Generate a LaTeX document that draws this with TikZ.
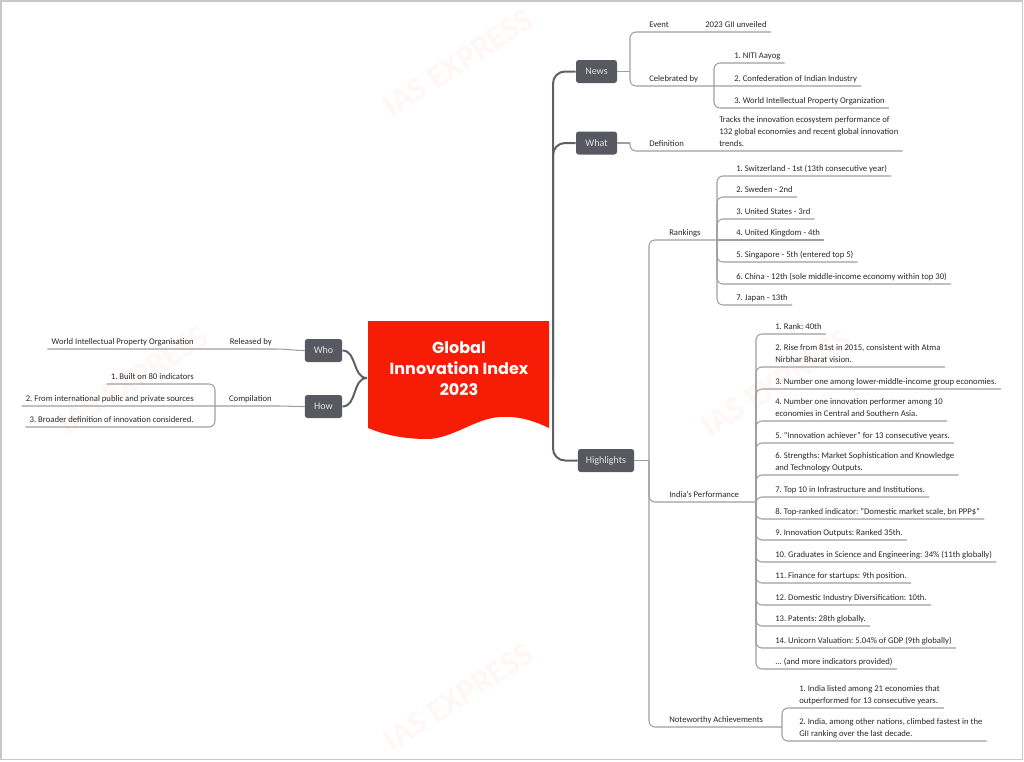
\documentclass[tikz,border=0pt]{standalone}
\usepackage{fontspec}
\setmainfont{Carlito}
\newfontfamily\titlefont{Poppins}
\frenchspacing

\definecolor{flagred}{RGB}{246,28,6}
\definecolor{boxgray}{RGB}{88,88,97}
\definecolor{linkgray}{RGB}{158,158,158}
\definecolor{trunkgray}{RGB}{95,95,105}
\definecolor{txtgray}{RGB}{40,40,40}
\definecolor{framegray}{RGB}{200,200,200}

\tikzset{
	leaf/.style={anchor=south west, inner xsep=3pt, inner ysep=1pt, text depth=2.2pt, font=\fontsize{6.5}{9}\selectfont, text=txtgray, align=left},
	leafL/.style={leaf, anchor=south east, align=right},
	topic/.style={fill=boxgray, rounded corners=2pt, text=white!90!black, font=\fontsize{7.5}{9}\selectfont, minimum height=17.25pt, minimum width=28pt, inner xsep=6pt},
	link/.style={draw=linkgray, line width=0.8pt},
	trunk/.style={draw=trunkgray, line width=1.5pt},
	wmark/.style={font=\fontsize{25}{25}\selectfont\bfseries, text=red, opacity=0.035, rotate=33}
}

\begin{document}
\begin{tikzpicture}[x=0.75pt,y=0.75pt,yscale=-1,xscale=1]
	\useasboundingbox (0,0) rectangle (1024,761);

	% Watermarks
	\begin{scope}
		\clip (1,1) rectangle (1022,759);
		\node (wm1) [wmark] at (458,63) {IAS EXPRESS};
		\node (wm2) [wmark] at (1101,63) {IAS EXPRESS};
		\node (wm3) [wmark] at (133,380) {IAS EXPRESS};
		\node (wm4) [wmark] at (776,383) {IAS EXPRESS};
		\node (wm5) [wmark] at (458,697) {IAS EXPRESS};
		\node (wm6) [wmark] at (1101,697) {IAS EXPRESS};
	\end{scope}

	% Frame
	\draw [framegray, line width=1.1pt] (1,1) rectangle (1022.5,759.5);

	% Shape: central flag
	\fill [flagred] (368,321) -- (549,321) -- (549,428) .. controls (530,419) and (516,416) .. (500,417) .. controls (476,418) and (452,439) .. (427,439) .. controls (402,439) and (382,434) .. (368,428) -- cycle;
	% Text Node
	\node (ctr) [font=\titlefont\bfseries\fontsize{12}{15.75}\selectfont, text=white, align=center] at (459,369) {Global\\Innovation Index\\2023};
	\coordinate (ctrR) at (553,378);
	\coordinate (ctrL) at (367,378);

	% Topics
	\node (news) [topic, minimum width=30.75pt] at (596.5,71.5) {News};
	\node (what) [topic, minimum width=30.75pt] at (596.5,143) {What};
	\node (hl) [topic] at (606,460.5) {Highlights};
	\node (who) [topic] at (323.5,350.5) {Who};
	\node (how) [topic] at (323.5,406.5) {How};

	% Main connectors
	\draw [trunk, rounded corners=9pt] (ctrR) |- (news.west);
	\draw [trunk, rounded corners=9pt] (ctrR) |- (what.west);
	\draw [trunk, rounded corners=9pt] (ctrR) |- (hl.west);
	\draw [trunk] (ctrL) to[out=180,in=0] (who.east);
	\draw [trunk] (ctrL) to[out=180,in=0] (how.east);

	% News
	\coordinate (nwT) at (630,71.5);
	\coordinate (cbJ) at (714,86);
	\node (ev) [leaf] at (645,32) {Event};
	\node (gii) [leaf] at (701,32) {2023 GII unveiled};
	\node (cb) [leaf] at (645,86) {Celebrated by};
	\node (cb1) [leaf] at (730,63) {1. NITI Aayog};
	\node (cb2) [leaf] at (730,86) {2. Confederation of Indian Industry};
	\node (cb3) [leaf] at (730,108) {3. World Intellectual Property Organization};
	\draw [link] (news.east) -- (nwT);
	\draw [link, rounded corners=4.5pt] (nwT) |- (gii.south east);
	\draw [link, rounded corners=4.5pt] (nwT) |- (cbJ) -- (cb2.south east);
	\draw [link, rounded corners=4.5pt] (cbJ) |- (cb1.south west) -- (cb1.south east);
	\draw [link, rounded corners=4.5pt] (cbJ) |- (cb3.south west) -- (cb3.south east);

	% What
	\coordinate (wtT) at (630,143);
	\node (df) [leaf] at (645,151) {Definition};
	\node (dfx) [leaf] at (715,151) {Tracks the innovation ecosystem performance of\\132 global economies and recent global innovation\\trends.};
	\draw [link] (what.east) -- (wtT);
	\draw [link, rounded corners=4.5pt] (wtT) |- (dfx.south east);

	% Highlights
	\coordinate (hlT) at (649,460.5);
	\coordinate (rkJ) at (717,240);
	\coordinate (ipJ) at (756,502);
	\coordinate (naJ) at (782,727);
	\draw [link] (hl.east) -- (hlT);
	\draw [link, rounded corners=4.5pt] (hlT) |- (rkJ);
	\draw [link, rounded corners=4.5pt] (hlT) |- (ipJ);
	\draw [link, rounded corners=4.5pt] (hlT) |- (naJ);

	% Rankings
	\node (rk) [leaf] at (665,240) {Rankings};
	\node (rk1) [leaf] at (732,176) {1. Switzerland - 1st (13th consecutive year)};
	\node (rk2) [leaf] at (732,197) {2. Sweden - 2nd};
	\node (rk3) [leaf] at (732,219) {3. United States - 3rd};
	\node (rk4) [leaf] at (732,240) {4. United Kingdom - 4th};
	\node (rk5) [leaf] at (732,262) {5. Singapore - 5th (entered top 5)};
	\node (rk6) [leaf] at (732,284) {6. China - 12th (sole middle-income economy within top 30)};
	\node (rk7) [leaf] at (732,305) {7. Japan - 13th};
	\draw [link] (rkJ) -- (rk4.south east);
	\foreach \i in {1,2,3,5,6,7}
		\draw [link, rounded corners=4.5pt] (rkJ) |- (rk\i.south west) -- (rk\i.south east);

	% India's Performance
	\node (ip) [leaf] at (665,502) {India's Performance};
	\node (ip1) [leaf] at (771,334) {1. Rank: 40th};
	\node (ip2) [leaf] at (771,367) {2. Rise from 81st in 2015, consistent with Atma\\Nirbhar Bharat vision.};
	\node (ip3) [leaf] at (771,389) {3. Number one among lower-middle-income group economies.};
	\node (ip4) [leaf] at (771,421) {4. Number one innovation performer among 10\\economies in Central and Southern Asia.};
	\node (ip5) [leaf] at (771,443) {5. "Innovation achiever" for 13 consecutive years.};
	\node (ip6) [leaf] at (771,475) {6. Strengths: Market Sophistication and Knowledge\\and Technology Outputs.};
	\node (ip7) [leaf] at (771,497) {7. Top 10 in Infrastructure and Institutions.};
	\node (ip8) [leaf] at (771,519) {8. Top-ranked indicator: "Domestic market scale, bn PPP\$"};
	\node (ip9) [leaf] at (771,540) {9. Innovation Outputs: Ranked 35th.};
	\node (ip10) [leaf] at (771,562) {10. Graduates in Science and Engineering: 34\% (11th globally)};
	\node (ip11) [leaf] at (771,583) {11. Finance for startups: 9th position.};
	\node (ip12) [leaf] at (771,605) {12. Domestic Industry Diversification: 10th.};
	\node (ip13) [leaf] at (771,626) {13. Patents: 28th globally.};
	\node (ip14) [leaf] at (771,648) {14. Unicorn Valuation: 5.04\% of GDP (9th globally)};
	\node (ip15) [leaf] at (771,669) {... (and more indicators provided)};
	\foreach \i in {1,...,15}
		\draw [link, rounded corners=4.5pt] (ipJ) |- (ip\i.south west) -- (ip\i.south east);

	% Noteworthy Achievements
	\node (na) [leaf] at (665,727) {Noteworthy Achievements};
	\node (na1) [leaf] at (795,708) {1. India listed among 21 economies that\\outperformed for 13 consecutive years.};
	\node (na2) [leaf] at (795,741) {2. India, among other nations, climbed fastest in the\\GII ranking over the last decade.};
	\foreach \i in {1,2}
		\draw [link, rounded corners=4.5pt] (naJ) |- (na\i.south west) -- (na\i.south east);

	% Who
	\node (rb) [leafL] at (276,349) {Released by};
	\node (wipo) [leafL] at (198,349) {World Intellectual Property Organisation};
	\draw [link] (who.west) to[out=180,in=0] (rb.south east) -- (wipo.south west);

	% How
	\coordinate (cpJ) at (215,406);
	\node (cp) [leafL] at (276,406) {Compilation};
	\node (c1) [leafL] at (198,384) {1. Built on 80 indicators};
	\node (c2) [leafL] at (198,406) {2. From international public and private sources};
	\node (c3) [leafL] at (198,427) {3. Broader definition of innovation considered.};
	\draw [link] (how.west) to[out=180,in=0] (cp.south east) -- (cpJ) -- (c2.south west);
	\draw [link, rounded corners=4.5pt] (cpJ) |- (c1.south east) -- (c1.south west);
	\draw [link, rounded corners=4.5pt] (cpJ) |- (c3.south east) -- (c3.south west);

\end{tikzpicture}
\end{document}
